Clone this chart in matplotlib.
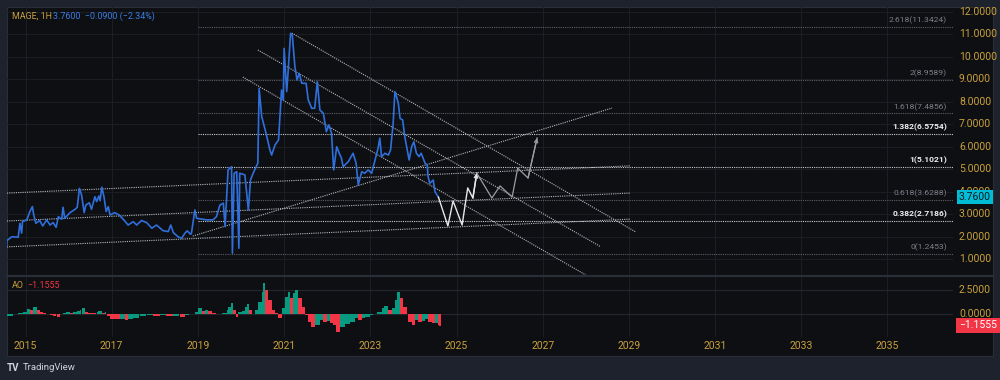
import matplotlib.pyplot as plt
import matplotlib.transforms as mtransforms
from matplotlib.patches import Rectangle
import numpy as np

plt.rcParams["font.family"] = ["Roboto", "DejaVu Sans"]

# price series (decimal year, close)
price_years = [
    2014.56, 2014.57, 2014.68, 2014.83, 2014.87, 2014.91, 2014.93, 2015.03, 2015.10, 2015.16,
    2015.19, 2015.24, 2015.33, 2015.40, 2015.49, 2015.57, 2015.64, 2015.71, 2015.76, 2015.84,
    2015.87, 2015.91, 2016.03, 2016.15, 2016.20, 2016.25, 2016.30, 2016.36, 2016.40, 2016.48,
    2016.53, 2016.61, 2016.65, 2016.70, 2016.73, 2016.77, 2016.82, 2016.87, 2016.92, 2016.96,
    2017.07, 2017.17, 2017.28, 2017.38, 2017.50, 2017.58, 2017.69, 2017.81, 2017.93, 2018.04,
    2018.19, 2018.31, 2018.37, 2018.43, 2018.54, 2018.62, 2018.70, 2018.75, 2018.83, 2018.85,
    2018.93, 2018.97, 2019.20, 2019.35, 2019.43, 2019.51, 2019.59, 2019.63, 2019.70, 2019.78,
    2019.80, 2019.84, 2019.90, 2019.95, 2019.97, 2020.09, 2020.17, 2020.22, 2020.28, 2020.35,
    2020.39, 2020.42, 2020.48, 2020.58, 2020.67, 2020.71, 2020.79, 2020.87, 2020.94, 2020.98,
    2021.00, 2021.06, 2021.09, 2021.15, 2021.19, 2021.25, 2021.30, 2021.35, 2021.41, 2021.51,
    2021.56, 2021.64, 2021.71, 2021.77, 2021.83, 2021.91, 2021.98, 2022.04, 2022.10, 2022.15,
    2022.22, 2022.28, 2022.33, 2022.37, 2022.41, 2022.49, 2022.60, 2022.67, 2022.72, 2022.80,
    2022.87, 2022.95, 2023.03, 2023.11, 2023.18, 2023.22, 2023.26, 2023.34, 2023.42, 2023.47,
    2023.53, 2023.57, 2023.61, 2023.65, 2023.69, 2023.75, 2023.80, 2023.90, 2023.96, 2024.01,
    2024.07, 2024.13, 2024.18, 2024.27, 2024.32, 2024.34, 2024.38, 2024.46, 2024.50, 2024.58,
]
price_close = [
    1.59, 1.83, 2.00, 1.98, 2.60, 2.16, 2.67, 2.75, 3.12, 3.34,
    2.97, 2.60, 2.72, 2.48, 2.75, 2.52, 2.63, 2.42, 2.89, 2.78,
    3.31, 2.82, 3.07, 3.22, 3.31, 4.15, 3.86, 3.07, 3.41, 3.51,
    3.22, 3.78, 3.56, 3.81, 3.60, 4.20, 3.78, 3.12, 3.34, 2.97,
    3.07, 2.97, 2.75, 2.52, 2.67, 2.52, 2.72, 2.63, 2.38, 2.52,
    2.27, 2.23, 2.52, 2.18, 2.00, 1.93, 2.16, 2.26, 2.11, 2.16,
    3.19, 2.82, 2.75, 2.75, 2.89, 3.41, 3.49, 2.45, 4.97, 5.11,
    1.27, 4.82, 4.89, 1.49, 4.82, 4.75, 3.19, 4.52, 4.82, 5.11,
    5.27, 8.60, 7.34, 6.60, 5.86, 5.63, 6.08, 6.30, 8.52, 8.08,
    10.37, 8.45, 9.26, 11.04, 10.96, 9.56, 8.97, 9.26, 8.82, 8.82,
    8.08, 7.71, 7.71, 8.89, 7.63, 7.49, 6.67, 6.97, 6.60, 4.97,
    6.00, 5.71, 5.49, 5.11, 5.19, 5.34, 5.71, 5.27, 4.30, 4.89,
    4.82, 4.97, 4.82, 5.41, 5.93, 6.38, 5.56, 5.71, 5.63, 5.86,
    7.04, 8.45, 8.22, 7.93, 7.26, 7.19, 6.45, 5.41, 6.00, 6.22,
    5.71, 5.56, 5.71, 5.27, 5.19, 4.67, 4.38, 4.52, 4.00, 3.76,
]

# projected zig-zag path
proj1_years = [2024.58, 2024.80, 2024.92, 2025.13, 2025.26, 2025.38, 2025.47]
proj1_price = [3.76, 2.48, 3.59, 2.52, 4.17, 3.72, 4.83]
proj2_years = [2025.47, 2025.82, 2026.01, 2026.29, 2026.42, 2026.66, 2026.87]
proj2_price = [4.83, 3.72, 4.26, 3.76, 5.05, 4.61, 6.39]

# fib extension levels
fib_ratios = ["2.618", "2", "1.618", "1.382", "1", "0.618", "0.382", "0"]
fib_prices = [11.3424, 8.9589, 7.4856, 6.5754, 5.1021, 3.6288, 2.7186, 1.2453]
fib_bright = [False, False, False, True, True, False, True, False]
fib_start = 2019.0

# drawn trend lines: (year0, price0, year1, price1)
trend_lines = [
    (2021.18, 11.05, 2029.16, 2.21),
    (2020.39, 10.30, 2028.35, 1.55),
    (2020.04, 9.10, 2028.00, 0.30),
    (2018.88, 2.03, 2028.61, 7.72),
    (2014.57, 3.94, 2029.02, 5.15),
    (2014.57, 2.70, 2029.02, 3.94),
    (2014.57, 1.55, 2029.02, 2.78),
]

# awesome oscillator
ao_years = [
    2014.56, 2014.64, 2014.71, 2014.83, 2014.95, 2015.03, 2015.10, 2015.18, 2015.26, 2015.33,
    2015.41, 2015.49, 2015.57, 2015.64, 2015.72, 2015.80, 2015.87, 2015.95, 2016.03, 2016.11,
    2016.19, 2016.26, 2016.30, 2016.38, 2016.45, 2016.53, 2016.65, 2016.68, 2016.77, 2016.84,
    2016.88, 2016.96, 2017.07, 2017.19, 2017.31, 2017.38, 2017.50, 2017.65, 2017.81, 2017.96,
    2018.12, 2018.27, 2018.43, 2018.58, 2018.70, 2018.81, 2018.93, 2019.01, 2019.09, 2019.16,
    2019.24, 2019.32, 2019.43, 2019.55, 2019.67, 2019.70, 2019.77, 2019.81, 2019.88, 2019.93,
    2020.02, 2020.09, 2020.14, 2020.18, 2020.25, 2020.32, 2020.39, 2020.48, 2020.51, 2020.55,
    2020.62, 2020.72, 2020.79, 2020.86, 2020.95, 2021.02, 2021.09, 2021.13, 2021.20, 2021.25,
    2021.32, 2021.41, 2021.48, 2021.55, 2021.62, 2021.71, 2021.83, 2021.90, 2021.99, 2022.06,
    2022.13, 2022.20, 2022.29, 2022.41, 2022.53, 2022.64, 2022.71, 2022.81, 2022.87, 2022.99,
    2023.06, 2023.15, 2023.27, 2023.32, 2023.41, 2023.50, 2023.57, 2023.62, 2023.69, 2023.76,
    2023.85, 2023.87, 2023.97, 2024.03, 2024.10, 2024.20, 2024.27, 2024.34, 2024.43, 2024.50,
    2024.57, 2024.60,
]
ao_values = [
    -0.17, -0.17, 0.07, 0.14, 0.24, 0.51, 0.41, 0.75, 0.41, 0.24,
    0.14, 0.03, -0.10, -0.17, -0.27, 0.07, 0.17, 0.24, 0.17, 0.24,
    0.31, 0.48, 0.65, 0.24, 0.14, 0.10, 0.24, 0.31, 0.10, 0.24,
    -0.17, -0.45, -0.51, -0.45, -0.55, -0.51, -0.38, -0.17, -0.10, -0.17,
    -0.10, -0.21, -0.17, -0.27, -0.10, 0.03, 0.24, 0.65, 0.31, 0.41,
    0.34, 0.17, 0.07, 0.14, 0.41, 0.79, 1.13, 0.45, -0.24, 0.27,
    0.34, 0.79, 1.03, 0.45, 0.05, 0.45, 1.30, 2.33, 3.18, 2.50,
    1.47, 0.45, 0.10, -0.41, 0.62, 1.82, 2.26, 1.64, 2.16, 2.50,
    1.64, 0.79, -0.05, -0.75, -1.27, -1.10, -0.58, -0.75, -0.68, -0.86,
    -1.10, -1.85, -1.27, -1.03, -0.75, -0.41, -0.58, -0.34, -0.24, -0.07,
    0.02, 0.27, 0.62, 0.89, 0.45, 0.65, 1.47, 2.26, 1.64, 0.79,
    0.05, -0.75, -1.10, -0.58, -0.75, -0.68, -0.48, -0.75, -0.92, -0.86,
    -1.10, -1.1555,
]

year_ticks = [2015, 2017, 2019, 2021, 2023, 2025, 2027, 2029, 2031, 2033, 2035]
price_ticks = [1, 2, 3, 4, 5, 6, 7, 8, 9, 10, 11, 12]
ao_ticks = [0.0, 2.5]
last_price = 3.76
last_ao = -1.1555

OUTER = "#1e222d"
PANE = "#0e0f12"
GRID = "#1c1e24"
GOLD = "#c9a13d"
BLUE = "#2f6fdc"
GREEN = "#089981"
RED = "#f23645"
AXIS_FS = 7.5

W, H = 1000, 380
fig = plt.figure(figsize=(W / 100, H / 100), dpi=100, facecolor=OUTER)


def px_box(x0, y0, x1, y1):
    return [x0 / W, 1 - y1 / H, (x1 - x0) / W, (y1 - y0) / H]


fig.add_artist(Rectangle((7 / W, 1 - 356 / H), 986 / W, 349 / H, transform=fig.transFigure,
                         facecolor=PANE, edgecolor="#2a2e39", linewidth=0.8, zorder=-5))

ax = fig.add_axes(px_box(7, 7, 953, 275))
ao = fig.add_axes(px_box(7, 277, 953, 337), sharex=ax)
for a in (ax, ao):
    a.set_facecolor("none")
    for s in a.spines.values():
        s.set_visible(False)
    a.tick_params(left=False, bottom=False, labelleft=False, labelbottom=False)
    for yr in year_ticks:
        a.axvline(yr, color=GRID, linewidth=0.8, zorder=0)

ax.set_xlim(2014.57, 2036.52)
ax.set_ylim(0.30, 12.21)
ao.set_ylim(-2.34, 3.84)

for p in price_ticks:
    ax.axhline(p, color=GRID, linewidth=0.7, zorder=0)
for p in ao_ticks:
    ao.axhline(p, color="#24272e", linewidth=0.8, zorder=0)

fig.add_artist(plt.Line2D([7 / W, 993 / W], [1 - 276 / H] * 2, color="#2a2e39", linewidth=1.6))

dots = (0, (1, 1))
ptrans = mtransforms.blended_transform_factory(ax.transAxes, ax.transData)

# fib levels
for ratio, p, bright in zip(fib_ratios, fib_prices, fib_bright):
    ax.plot([fib_start, ax.get_xlim()[1]], [p, p], color="#c9ccd3" if bright else "#5c5f68",
            linewidth=0.8, linestyle=dots, zorder=2)
    ax.text(0.9937, p + 0.12, f"{ratio}({p:.4f})", transform=ptrans,
            ha="right", va="bottom", fontsize=6.1,
            color="#eceef2" if bright else "#7c7f88", fontweight="bold" if bright else "normal")

for x0, y0, x1, y1 in trend_lines:
    ax.plot([x0, x1], [y0, y1], color="#b4b7bf", linewidth=0.8, linestyle=dots, zorder=3)

ax.plot(price_years, price_close, color=BLUE, linewidth=1.2, zorder=4)

ax.plot(proj1_years, proj1_price, color="#e6e7ea", linewidth=1.0, zorder=5)
ax.annotate("", xy=(proj1_years[-1], proj1_price[-1]), xytext=(proj1_years[-2], proj1_price[-2]),
            arrowprops=dict(arrowstyle="->", color="#e6e7ea", lw=1.0, shrinkA=0, shrinkB=0,
                            mutation_scale=6), zorder=5)
ax.plot(proj2_years, proj2_price, color="#9a9da5", linewidth=0.9, zorder=5)
ax.annotate("", xy=(proj2_years[-1], proj2_price[-1]), xytext=(proj2_years[-2], proj2_price[-2]),
            arrowprops=dict(arrowstyle="->", color="#9a9da5", lw=0.9, shrinkA=0, shrinkB=0,
                            mutation_scale=6), zorder=5)

# price scale (4.0000 sits partly under the last-price badge, as in the source)
for p in price_ticks:
    ax.text(1.0063, p, f"{p:.4f}", transform=ptrans, ha="left", va="center",
            fontsize=AXIS_FS, color=GOLD, clip_on=False)
ax.text(1.0063, last_price, f"{last_price:.4f}", transform=ptrans, ha="left", va="center",
        fontsize=AXIS_FS, color="#0c1a24", clip_on=False, zorder=10,
        bbox=dict(boxstyle="square,pad=0.2", facecolor="#00bcd4", edgecolor="none"))

# AO histogram
ao_arr = np.array(ao_values)
ao_x = np.array(ao_years)
colors = [GREEN] + [GREEN if ao_arr[i] >= ao_arr[i - 1] else RED for i in range(1, len(ao_arr))]
widths = np.append(np.diff(ao_x), 0.04) * 0.95
ao.bar(ao_x, ao_arr, width=widths, color=colors, align="edge", linewidth=0, zorder=3)

atrans = mtransforms.blended_transform_factory(ao.transAxes, ao.transData)
for p in ao_ticks:
    ao.text(1.0063, p, f"{p:.4f}", transform=atrans, ha="left", va="center",
            fontsize=AXIS_FS, color=GOLD, clip_on=False)
ao.text(1.0063, last_ao, f"\u2212{abs(last_ao):.4f}", transform=atrans, ha="left", va="center",
        fontsize=AXIS_FS, color="white", clip_on=False, zorder=10,
        bbox=dict(boxstyle="square,pad=0.25", facecolor=RED, edgecolor="none"))

# time axis
ttrans = mtransforms.blended_transform_factory(ao.transData, fig.transFigure)
for yr in year_ticks:
    ao.text(yr, 1 - 346 / H, str(yr), transform=ttrans, ha="center", va="center",
            fontsize=AXIS_FS, color=GOLD, clip_on=False)

# legends
fig.text(12 / W, 1 - 16 / H, "MAGE, 1H", ha="left", va="center", fontsize=6.4, color=GOLD)
fig.text(53 / W, 1 - 16 / H, "3.7600  \u22120.0900 (\u22122.34%)", ha="left", va="center",
         fontsize=6.4, color="#3a7ee4")
fig.text(12 / W, 1 - 285 / H, "AO", ha="left", va="center", fontsize=6.4, color=GOLD)
fig.text(27 / W, 1 - 285 / H, f"\u2212{abs(last_ao):.4f}", ha="left", va="center", fontsize=6.4, color=RED)

fig.text(7 / W, 1 - 368 / H, "TV", ha="left", va="center", fontsize=7, color="#d1d4dc",
         fontweight="bold")
fig.text(23 / W, 1 - 368 / H, "TradingView", ha="left", va="center", fontsize=6.8, color="#d1d4dc")

fig.savefig("out.png", dpi=100, facecolor=OUTER)
plt.close(fig)
